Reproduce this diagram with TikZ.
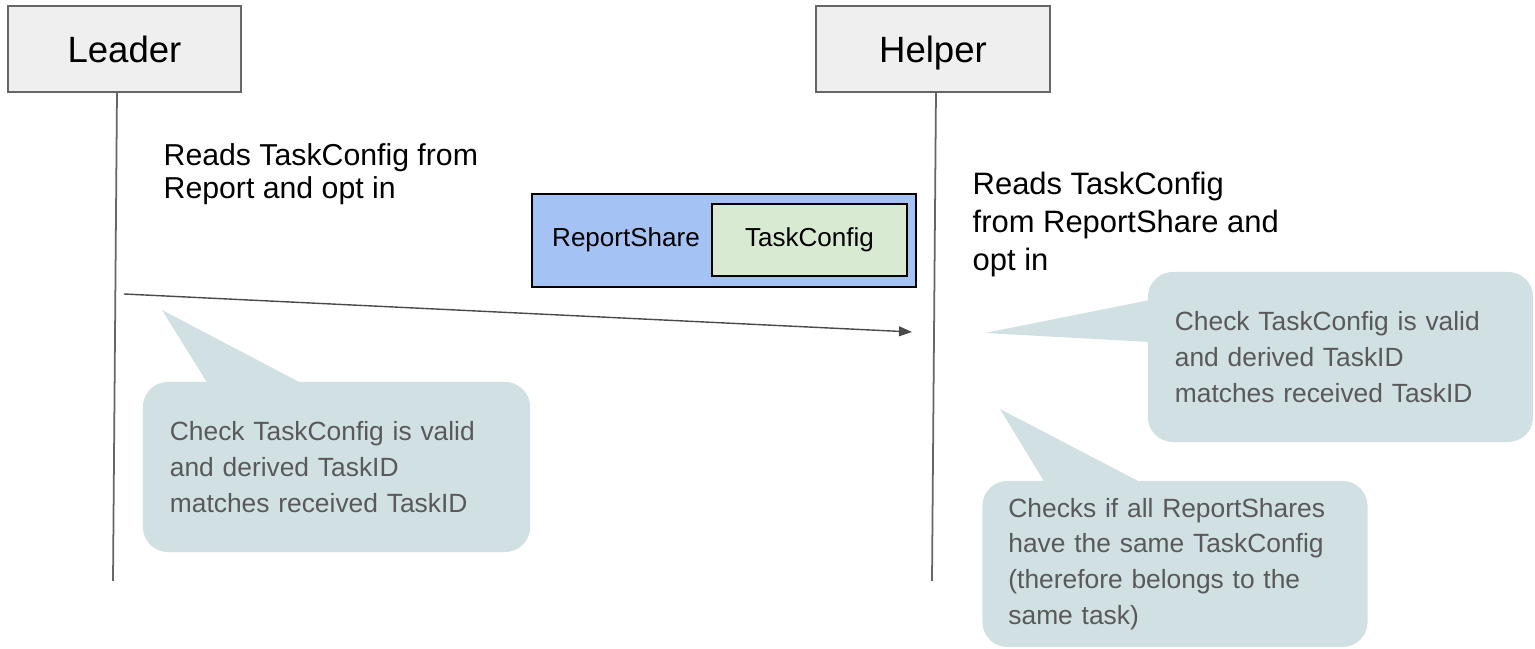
\documentclass[tikz,border=0pt]{standalone}
\usepackage{fontspec}
\setmainfont{Liberation Sans}
\usetikzlibrary{positioning, arrows.meta}

\definecolor{actorfill}{HTML}{EFEFEF}
\definecolor{actorline}{HTML}{666666}
\definecolor{sharefill}{HTML}{A4C2F4}
\definecolor{configfill}{HTML}{D9EAD3}
\definecolor{notefill}{HTML}{D0E0E3}
\definecolor{notetext}{HTML}{595959}
\definecolor{msgline}{HTML}{4A4A4A}

\tikzset{
	actor/.style={rectangle, draw=actorline, fill=actorfill, line width=0.6pt,
		minimum width=2.33cm, minimum height=0.86cm,
		text height=0.96em, text depth=0.2em,
		font=\fontsize{10.4}{12.5}\selectfont},
	lifeline/.style={draw=actorline, line width=0.5pt},
	msg/.style={draw=msgline, line width=0.4pt, -{Triangle[length=3.7pt,width=2.8pt]}},
	note/.style={fill=notefill, rounded corners=0.25cm, text=notetext, align=left,
		inner xsep=0.27cm, font=\fontsize{7.5}{10.2}\selectfont},
	remark/.style={anchor=north west, inner sep=0pt, align=left}
}

\begin{document}
\begin{tikzpicture}[x=0.01cm, y=-0.01cm]
	\useasboundingbox (0,0) rectangle (1535,649);

	% actors and lifelines
	\node[actor] (leader) at (124.5,49) {Leader};
	\node[actor] (helper) at (933,49) {Helper};

	\coordinate (leaderTop) at (117,92);
	\coordinate (leaderEnd) at (113,581);
	\coordinate (helperTop) at (936,92);
	\coordinate (helperEnd) at (932,581);
	\draw[lifeline] (leaderTop) -- (leaderEnd);
	\draw[lifeline] (helperTop) -- (helperEnd);

	% what is read
	\node[remark, font=\fontsize{8.6}{9.4}\selectfont] (leaderRead) at (163,143)
		{Reads TaskConfig from\\Report and opt in};
	\node[remark, font=\fontsize{8.8}{10.8}\selectfont] (helperRead) at (972,171)
		{Reads TaskConfig\\from ReportShare and\\opt in};

	% message
	\node[rectangle,
		draw=black,
		fill=sharefill,
		line width=0.6pt,
		minimum width=3.84cm,
		minimum height=0.93cm
	] (share) at (724,240.5) {};
	\node[font=\fontsize{7.4}{9}\selectfont] (shareLabel) at (626,240) {ReportShare};
	\node[rectangle,
		draw=black,
		fill=configfill,
		line width=0.6pt,
		minimum width=1.95cm,
		minimum height=0.72cm,
		font=\fontsize{7.4}{9}\selectfont
	] (config) at (809.5,240) {TaskConfig};

	\coordinate (msgStart) at (124,294);
	\coordinate (msgEnd) at (912,332);
	\draw[msg] (msgStart) -- (msgEnd);

	% callouts
	\fill[notefill] (208,384) -- (162,310) -- (303,384) -- cycle;
	\node[note, text width=3.33cm, minimum height=1.70cm] (leaderNote) at (336.5,467)
		{Check TaskConfig is valid\\and derived TaskID\\matches received TaskID};

	\fill[notefill] (1150,300) -- (985,333) -- (1150,342) -- cycle;
	\node[note, text width=3.31cm, minimum height=1.70cm] (helperNote) at (1340.5,357)
		{Check TaskConfig is valid\\and derived TaskID\\matches received TaskID};

	\fill[notefill] (1045,483) -- (1000,409) -- (1142,483) -- cycle;
	\node[note, text width=3.33cm, minimum height=1.66cm, inner xsep=0.26cm] (groupNote) at (1175,564)
		{Checks if all ReportShares\\have the same TaskConfig\\(therefore belongs to the\\same task)};
\end{tikzpicture}
\end{document}
